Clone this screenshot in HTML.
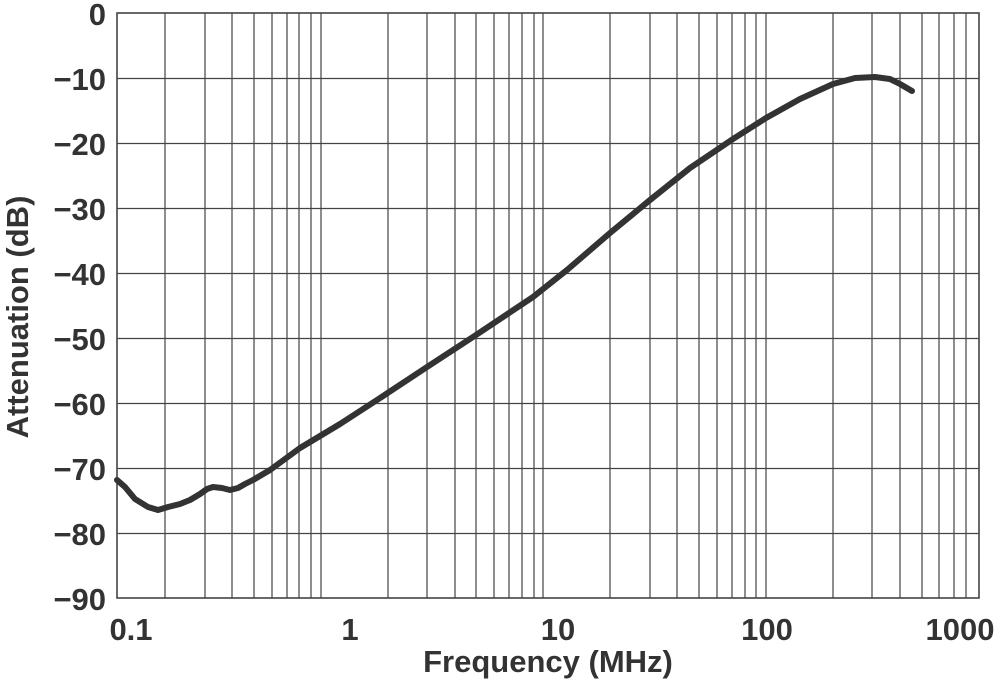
<!DOCTYPE html>
<html><head><meta charset="utf-8"><style>
body{margin:0;background:#fff}
svg{display:block}
text{font-family:"Liberation Sans",Arial,sans-serif;font-weight:bold;fill:#333}
</style></head><body>
<svg width="999" height="683" viewBox="0 0 999 683">
<g stroke="#444" stroke-width="1.2" fill="none">
<line x1="117" y1="78.5" x2="979" y2="78.5"/><line x1="117" y1="143.5" x2="979" y2="143.5"/>
<line x1="117" y1="208.5" x2="979" y2="208.5"/><line x1="117" y1="273.5" x2="979" y2="273.5"/>
<line x1="117" y1="338.5" x2="979" y2="338.5"/><line x1="117" y1="403.5" x2="979" y2="403.5"/>
<line x1="117" y1="468.5" x2="979" y2="468.5"/><line x1="117" y1="533.5" x2="979" y2="533.5"/>
<path d="M165 13V598M205 13V598M232 13V598M254 13V598M272 13V598M287 13V598M299 13V598M311 13V598M321 13V598
M388 13V598M427 13V598M455 13V598M476 13V598M494 13V598M509 13V598M522 13V598M534 13V598M543 13V598
M610 13V598M650 13V598M677 13V598M699 13V598M717 13V598M732 13V598M745 13V598M756 13V598M766 13V598
M833 13V598M872 13V598M900 13V598M922 13V598M939 13V598M954 13V598M966 13V598"/>
<rect x="117" y="13" width="862" height="585" stroke-width="1.6"/>
</g>
<path d="M117 480 L125 487 L135 499 L148 507 L158 510 L168 507 L180 504 L190 500 L200 494 L207 489 L213 487 L222 488 L230 490 L238 488 L245 484 L253 480 L270 470 L285 459 L300 448 L340 424 L377 400 L427 367 L476 335 L533 297 L567 270 L610 233 L650 200 L690 168 L733 139 L766 118 L800 99 L833 84 L855 78 L875 77 L890 79 L900 84 L912 91" fill="none" stroke="#333" stroke-width="6" stroke-linecap="round" stroke-linejoin="round"/>
<g font-size="31" text-anchor="end">
<text x="106" y="25">0</text><text x="106" y="90">−10</text><text x="106" y="155">−20</text>
<text x="106" y="220">−30</text><text x="106" y="285">−40</text><text x="106" y="350">−50</text>
<text x="106" y="415">−60</text><text x="106" y="480">−70</text><text x="106" y="545">−80</text>
<text x="106" y="610">−90</text>
</g>
<g font-size="31" text-anchor="middle">
<text x="131" y="640">0.1</text><text x="350" y="640">1</text><text x="558" y="640">10</text>
<text x="767" y="640">100</text><text x="960" y="640">1000</text>
</g>
<text x="548" y="672" font-size="31" text-anchor="middle">Frequency (MHz)</text>
<text transform="translate(28,317) rotate(-90)" font-size="31" text-anchor="middle">Attenuation (dB)</text>
</svg>
</body></html>
